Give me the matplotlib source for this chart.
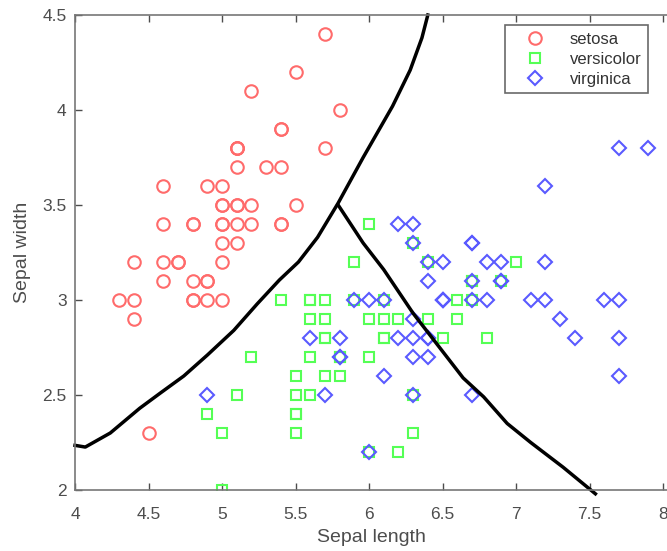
import matplotlib
matplotlib.use("Agg")
import matplotlib.pyplot as plt

# Fisher iris: sepal length / sepal width per species
setosa_len = [5.1, 4.9, 4.7, 4.6, 5.0, 5.4, 4.6, 5.0, 4.4, 4.9, 5.4, 4.8, 4.8, 4.3, 5.8, 5.7, 5.4,
              5.1, 5.7, 5.1, 5.4, 5.1, 4.6, 5.1, 4.8, 5.0, 5.0, 5.2, 5.2, 4.7, 4.8, 5.4, 5.2, 5.5,
              4.9, 5.0, 5.5, 4.9, 4.4, 5.1, 5.0, 4.5, 4.4, 5.0, 5.1, 4.8, 5.1, 4.6, 5.3, 5.0]
setosa_wid = [3.5, 3.0, 3.2, 3.1, 3.6, 3.9, 3.4, 3.4, 2.9, 3.1, 3.7, 3.4, 3.0, 3.0, 4.0, 4.4, 3.9,
              3.5, 3.8, 3.8, 3.4, 3.7, 3.6, 3.3, 3.4, 3.0, 3.4, 3.5, 3.4, 3.2, 3.1, 3.4, 4.1, 4.2,
              3.1, 3.2, 3.5, 3.6, 3.0, 3.4, 3.5, 2.3, 3.2, 3.5, 3.8, 3.0, 3.8, 3.2, 3.7, 3.3]
versi_len = [7.0, 6.4, 6.9, 5.5, 6.5, 5.7, 6.3, 4.9, 6.6, 5.2, 5.0, 5.9, 6.0, 6.1, 5.6, 6.7, 5.6,
             5.8, 6.2, 5.6, 5.9, 6.1, 6.3, 6.1, 6.4, 6.6, 6.8, 6.7, 6.0, 5.7, 5.5, 5.5, 5.8, 6.0,
             5.4, 6.0, 6.7, 6.3, 5.6, 5.5, 5.5, 6.1, 5.8, 5.0, 5.6, 5.7, 5.7, 6.2, 5.1, 5.7]
versi_wid = [3.2, 3.2, 3.1, 2.3, 2.8, 2.8, 3.3, 2.4, 2.9, 2.7, 2.0, 3.0, 2.2, 2.9, 2.9, 3.1, 3.0,
             2.7, 2.2, 2.5, 3.2, 2.8, 2.5, 2.8, 2.9, 3.0, 2.8, 3.0, 2.9, 2.6, 2.4, 2.4, 2.7, 2.7,
             3.0, 3.4, 3.1, 2.3, 3.0, 2.5, 2.6, 3.0, 2.6, 2.3, 2.7, 3.0, 2.9, 2.9, 2.5, 2.8]
virg_len = [6.3, 5.8, 7.1, 6.3, 6.5, 7.6, 4.9, 7.3, 6.7, 7.2, 6.5, 6.4, 6.8, 5.7, 5.8, 6.4, 6.5,
            7.7, 7.7, 6.0, 6.9, 5.6, 7.7, 6.3, 6.7, 7.2, 6.2, 6.1, 6.4, 7.2, 7.4, 7.9, 6.4, 6.3,
            6.1, 7.7, 6.3, 6.4, 6.0, 6.9, 6.7, 6.9, 5.8, 6.8, 6.7, 6.7, 6.3, 6.5, 6.2, 5.9]
virg_wid = [3.3, 2.7, 3.0, 2.9, 3.0, 3.0, 2.5, 2.9, 2.5, 3.6, 3.2, 2.7, 3.0, 2.5, 2.8, 3.2, 3.0,
            3.8, 2.6, 2.2, 3.2, 2.8, 2.8, 2.7, 3.3, 3.2, 2.8, 3.0, 2.8, 3.0, 2.8, 3.8, 2.8, 2.8,
            2.6, 3.0, 3.4, 3.1, 3.0, 3.1, 3.1, 3.1, 2.7, 3.2, 3.3, 3.0, 2.5, 3.0, 3.4, 3.0]

# decision boundaries
b1_x = [4.0, 4.07, 4.24, 4.44, 4.58, 4.74, 4.90, 5.08, 5.24, 5.39, 5.52, 5.65, 5.79, 5.96, 6.16, 6.28, 6.36, 6.40]
b1_y = [2.235, 2.226, 2.30, 2.43, 2.51, 2.60, 2.71, 2.84, 2.98, 3.105, 3.20, 3.33, 3.51, 3.75, 4.02, 4.21, 4.38, 4.5]
b2_x = [5.79, 5.96, 6.10, 6.30, 6.48, 6.64, 6.78, 6.94, 7.10, 7.32, 7.54]
b2_y = [3.50, 3.30, 3.16, 2.93, 2.75, 2.59, 2.49, 2.35, 2.25, 2.12, 1.98]

plt.rcParams['font.family'] = ['Liberation Sans', 'DejaVu Sans']
gray = '#4d4d4d'

fig = plt.figure(figsize=(6.67, 5.51), dpi=100)
ax = fig.add_axes([75/667, 1-490/551, 592/667, 475/551])

ms = 9
ax.plot(setosa_len, setosa_wid, 'o', ms=ms, mfc='none', mec='#ff6b6b', mew=1.5, label='setosa')
ax.plot(versi_len, versi_wid, 's', ms=ms-1.5, mfc='none', mec='#55ff55', mew=1.5, label='versicolor')
ax.plot(virg_len, virg_wid, 'D', ms=ms-2, mfc='none', mec='#5a5aff', mew=1.5, label='virginica')
ax.plot(b1_x, b1_y, '-', color='black', lw=2.5, clip_on=False, solid_joinstyle='round')
ax.plot(b2_x, b2_y, '-', color='black', lw=2.5, clip_on=False, solid_joinstyle='round')

ax.set_xlim(4, 8.027)
ax.set_ylim(2, 4.5)
ax.set_xticks([4, 4.5, 5, 5.5, 6, 6.5, 7, 7.5, 8])
ax.set_xticklabels(['4', '4.5', '5', '5.5', '6', '6.5', '7', '7.5', '8'])
ax.set_yticks([2, 2.5, 3, 3.5, 4, 4.5])
ax.set_yticklabels(['2', '2.5', '3', '3.5', '4', '4.5'])
ax.tick_params(direction='in', length=5, width=1, colors=gray, labelsize=12.5,
               top=True, right=False)
ax.tick_params(axis='x', pad=12)
ax.tick_params(axis='y', pad=6)
for s in ['left', 'bottom', 'top']:
    ax.spines[s].set_color('#777777')
    ax.spines[s].set_linewidth(1.2)
ax.spines['right'].set_visible(False)

ax.set_xlabel('Sepal length', fontsize=14, color=gray, labelpad=5)
ax.set_ylabel('Sepal width', fontsize=14, color=gray, labelpad=8)

leg = ax.legend(loc='upper right', bbox_to_anchor=(648/667, 1-25/551),
                bbox_transform=fig.transFigure, borderaxespad=0, fancybox=False,
                fontsize=12, handletextpad=0.6, labelspacing=0.3, borderpad=0.4,
                handlelength=2.9)
leg.get_frame().set_edgecolor('#444444')
leg.get_frame().set_linewidth(1.2)
for t in leg.get_texts():
    t.set_color('#333333')

fig.savefig('out.png', dpi=100)
